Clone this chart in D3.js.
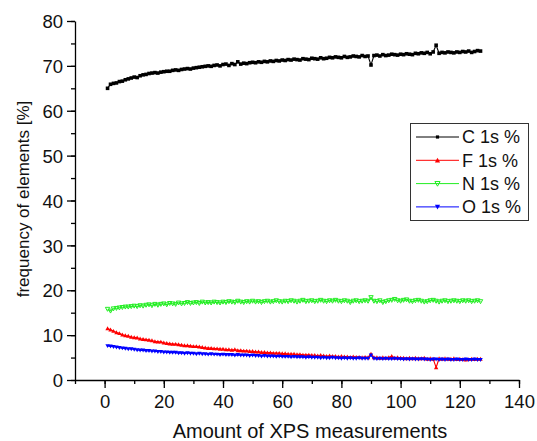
<!DOCTYPE html>
<html><head><meta charset="utf-8">
<script src="https://cdn.jsdelivr.net/npm/d3@7"></script>
<style>body{margin:0;background:#fff}svg{display:block;font-family:"Liberation Sans",Arial,sans-serif}</style>
</head><body><svg id="c" width="537" height="441"></svg>
<script>
const cVals=[65.0,65.9,66.1,66.2,66.5,66.6,66.9,67.1,67.3,67.5,67.4,67.8,68.0,68.1,68.3,68.4,68.5,68.4,68.6,68.7,68.8,68.8,69.0,69.1,69.0,69.2,69.3,69.4,69.3,69.5,69.6,69.7,69.8,69.9,70.0,69.9,70.1,70.2,70.0,70.3,70.4,70.1,70.5,70.3,70.9,70.4,70.6,70.5,70.7,70.8,70.7,70.9,70.8,71.0,70.9,71.1,71.0,71.2,71.1,71.3,71.2,71.4,71.3,71.5,71.4,71.3,71.6,71.5,71.4,71.7,71.6,71.5,71.8,71.6,71.7,71.9,71.8,72.0,71.9,71.8,72.1,71.9,72.0,72.2,72.1,72.0,72.3,72.1,72.2,70.2,72.3,72.4,72.2,72.5,72.3,72.4,72.6,72.5,72.4,72.6,72.5,72.7,72.6,72.5,72.8,72.7,72.9,72.8,73.0,72.7,73.1,74.6,72.8,73.0,72.9,73.1,73.0,72.9,73.1,73.0,73.2,73.1,73.3,73.0,73.2,73.4,73.3];
const fVals=[11.5,11.2,10.9,10.6,10.4,10.1,9.9,9.8,9.6,9.5,9.4,9.2,9.1,9.0,8.9,8.8,8.6,8.5,8.5,8.3,8.2,8.1,8.0,8.0,7.9,7.8,7.7,7.7,7.6,7.5,7.5,7.4,7.3,7.2,7.1,7.1,7.0,7.0,6.9,6.9,6.8,6.8,6.7,6.8,6.6,6.6,6.5,6.5,6.4,6.4,6.3,6.3,6.2,6.2,6.1,6.1,6.0,6.0,6.0,5.9,5.9,5.8,5.8,5.8,5.7,5.7,5.6,5.6,5.6,5.5,5.5,5.4,5.5,5.4,5.3,5.4,5.3,5.3,5.2,5.3,5.2,5.2,5.1,5.2,5.1,5.1,5.0,5.1,5.0,5.8,5.0,5.0,4.9,5.0,4.9,5.0,5.3,4.9,5.0,4.9,4.9,4.8,4.9,4.8,4.9,4.8,4.8,4.9,4.7,4.8,4.7,2.8,4.8,4.7,4.8,4.7,4.7,4.8,4.6,4.7,4.6,4.5,4.6,4.7,4.6,4.7,4.7];
const nVals=[15.8,15.4,15.9,16.0,16.1,16.2,16.3,16.3,16.4,16.5,16.4,16.6,16.5,16.7,16.8,16.6,16.9,16.7,16.9,17.0,16.8,17.1,17.0,16.9,17.2,17.0,17.1,17.3,17.1,17.2,17.3,17.1,17.4,17.2,17.3,17.2,17.4,17.3,17.2,17.4,17.3,17.5,17.4,17.3,17.6,17.4,17.3,17.5,17.4,17.6,17.4,17.5,17.3,17.5,17.6,17.4,17.5,17.7,17.5,17.4,17.6,17.5,17.7,17.6,17.4,17.6,17.8,17.5,17.6,17.7,17.5,17.6,17.8,17.6,17.5,17.7,17.6,17.8,17.6,17.5,17.7,17.6,17.3,17.6,17.7,17.5,17.6,17.7,17.6,18.4,17.6,17.5,17.7,17.3,17.5,17.7,17.8,18.0,17.7,17.6,17.8,17.9,17.6,17.5,17.7,17.8,17.6,17.4,17.5,17.7,17.8,17.6,17.4,17.6,17.7,17.5,17.6,17.7,17.6,17.5,17.7,17.6,17.7,17.5,17.6,17.7,17.5];
const oVals=[7.6,7.5,7.4,7.3,7.2,7.1,7.0,6.9,6.9,6.8,6.7,6.6,6.6,6.5,6.5,6.4,6.4,6.3,6.3,6.2,6.2,6.1,6.1,6.1,6.0,6.0,5.9,6.0,5.9,5.9,5.8,5.9,5.8,5.8,5.7,5.8,5.7,5.7,5.6,5.7,5.6,5.6,5.6,5.5,5.6,5.5,5.5,5.5,5.4,5.5,5.4,5.4,5.3,5.4,5.3,5.3,5.3,5.2,5.3,5.2,5.2,5.2,5.1,5.2,5.1,5.1,5.1,5.0,5.1,5.0,5.0,5.0,4.9,5.0,4.9,4.9,5.0,4.9,4.9,4.8,4.9,4.8,4.9,4.8,4.8,4.9,4.8,4.8,4.8,5.5,4.8,4.7,4.8,4.7,4.8,4.7,4.7,4.8,4.7,4.7,4.6,4.7,4.6,4.7,4.6,4.6,4.7,4.6,4.6,4.5,4.6,4.6,4.5,4.6,4.5,4.6,4.5,4.5,4.6,4.5,4.5,4.6,4.5,4.5,4.6,4.5,4.5];
const seriesNames=["C 1s %","F 1s %","N 1s %","O 1s %"];
const seriesColors=["#000000","#ff0000","#22ee22","#0000ff"];
const seriesSymbols=["square","triUp","triDownOpen","triDown"];
const xTicks=[0,20,40,60,80,100,120,140];
const yTicks=[0,10,20,30,40,50,60,70,80];

const svg=d3.select("#c");
const L=75,R=519,T=21,B=380;
const x=d3.scaleLinear().domain([-10,140]).range([L,R]);
const y=d3.scaleLinear().domain([0,80]).range([B,T]);

const series=[cVals,fVals,nVals,oVals].map((v,i)=>({name:seriesNames[i],color:seriesColors[i],sym:seriesSymbols[i],pts:v.map((d,j)=>({x:j+1,y:d}))}));

// axes
const xMinor=d3.axisBottom(x).tickValues(d3.range(-10,141,10)).tickSize(4).tickFormat("");
const yMinor=d3.axisLeft(y).tickValues(d3.range(0,81,5)).tickSize(4).tickFormat("");
svg.append("g").attr("transform",`translate(0,${B})`).call(xMinor).call(g=>g.select(".domain").remove());
svg.append("g").attr("transform",`translate(${L},0)`).call(yMinor).call(g=>g.select(".domain").remove());
const xa=svg.append("g").attr("transform",`translate(0,${B})`).call(d3.axisBottom(x).tickValues(xTicks).tickSize(8).tickSizeOuter(0).tickPadding(6.5));
const ya=svg.append("g").attr("transform",`translate(${L},0)`).call(d3.axisLeft(y).tickValues(yTicks).tickSize(8).tickSizeOuter(0).tickPadding(4));
svg.selectAll(".tick line,.domain").attr("stroke","#000").attr("stroke-width",1.3);
svg.selectAll(".tick text").attr("font-size",18.5).attr("fill","#111").attr("font-family","Liberation Sans, Arial, sans-serif");
ya.selectAll(".tick text").attr("dy","0.36em");

svg.append("text").attr("x",310).attr("y",438).attr("text-anchor","middle").attr("font-size",20).attr("fill","#111").text("Amount of XPS measurements");
svg.append("text").attr("transform",`translate(29,199) rotate(-90)`).attr("text-anchor","middle").attr("font-size",17).attr("fill","#111").text("frequency of elements [%]");

function marker(g,sym,color,s){
  if(sym==="square") g.append("rect").attr("x",-s).attr("y",-s).attr("width",2*s).attr("height",2*s).attr("fill",color);
  else if(sym==="triUp") g.append("path").attr("d",`M0,${-s}L${s},${s*0.8}L${-s},${s*0.8}Z`).attr("fill",color);
  else if(sym==="triDown") g.append("path").attr("d",`M0,${s}L${s},${-s*0.8}L${-s},${-s*0.8}Z`).attr("fill",color);
  else g.append("path").attr("d",`M0,${s}L${s},${-s*0.8}L${-s},${-s*0.8}Z`).attr("fill","none").attr("stroke",color).attr("stroke-width",1);
}
const line=d3.line().x(d=>x(d.x)).y(d=>y(d.y));
series.forEach(s=>{
  const g=svg.append("g");
  g.append("path").datum(s.pts).attr("d",line).attr("fill","none").attr("stroke",s.color).attr("stroke-width",1.1);
  s.pts.forEach(p=>{marker(g.append("g").attr("transform",`translate(${x(p.x)},${y(p.y)})`),s.sym,s.color,s.sym==="square"?1.8:2.2);});
});

// legend
const lg=svg.append("g");
lg.append("rect").attr("x",410.5).attr("y",123.5).attr("width",118).attr("height",97).attr("fill","#fff").attr("stroke","#333").attr("stroke-width",1);
series.forEach((s,i)=>{
  const yy=137+i*23.3;
  lg.append("line").attr("x1",416).attr("x2",459).attr("y1",yy).attr("y2",yy).attr("stroke",s.color).attr("stroke-width",1);
  marker(lg.append("g").attr("transform",`translate(437.5,${yy})`),s.sym,s.color,s.sym==="square"?1.6:2.6);
  lg.append("text").attr("x",462).attr("y",yy).attr("dy","0.36em").attr("font-size",18).attr("fill","#111").text(s.name);
});
</script></body></html>
